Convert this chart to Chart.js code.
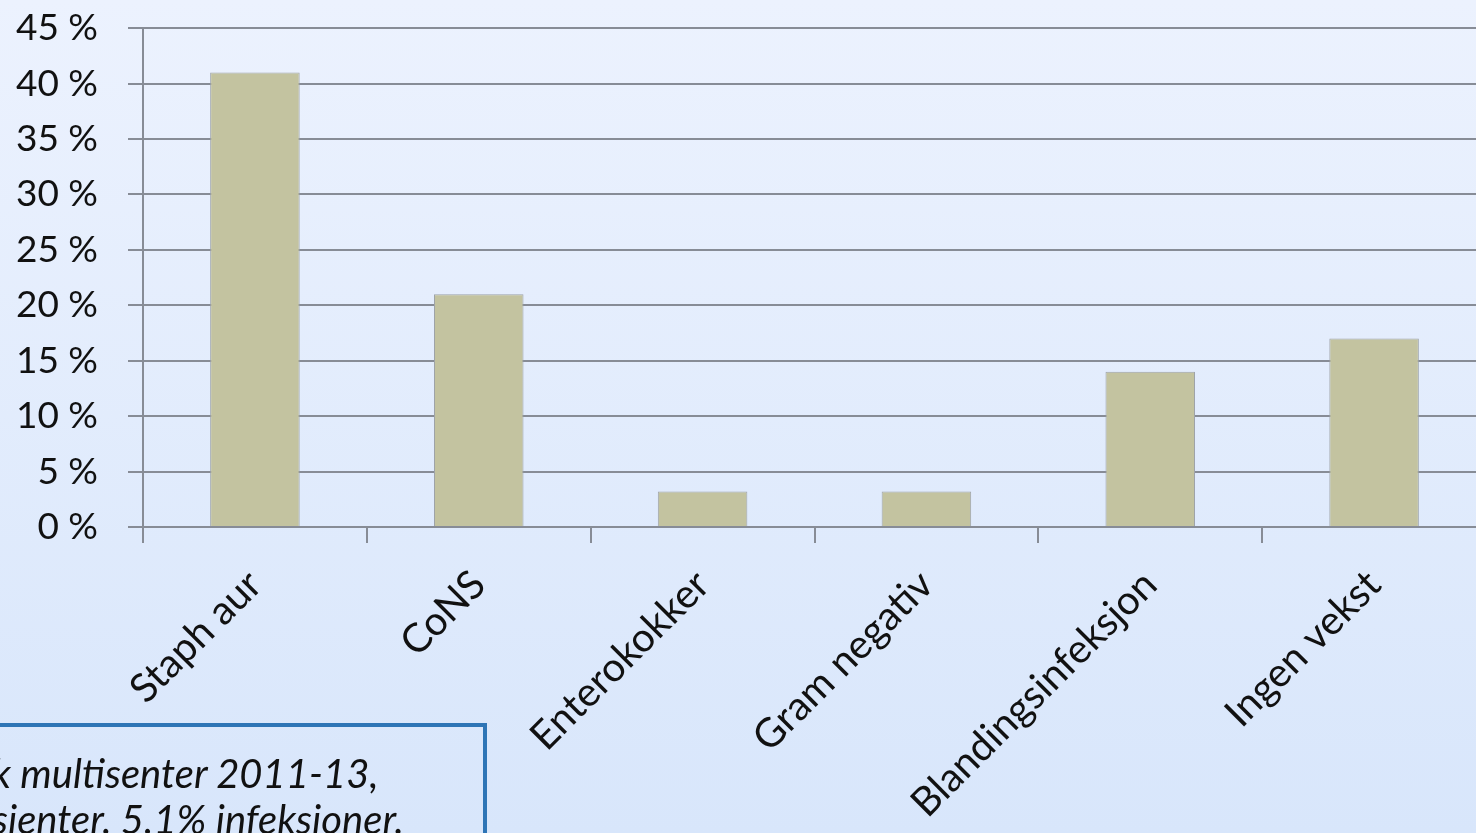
<!DOCTYPE html>
<html>
<head>
<meta charset="utf-8">
<script src="https://cdn.jsdelivr.net/npm/chart.js@4.4.1/dist/chart.umd.min.js"></script>
<style>
    html, body {
        margin: 0;
        padding: 0;
        width: 1476px;
        height: 833px;
        overflow: hidden;
        background: linear-gradient(to bottom, #ecf2fe 0%, #d8e6fb 100%);
        font-family: Lato, "Noto Sans", sans-serif;
    }
    #chartBox {
        position: absolute;
        left: 0;
        top: -24px;
        width: 1486px;
        height: 857px;
    }
    .note {
        position: absolute;
        left: -12px;
        top: 723px;
        width: 499px;
        height: 140px;
        border: 4px solid #2e75b6;
        box-sizing: border-box;
        font-style: italic;
        font-size: 40px;
        line-height: 46px;
        color: #111;
        padding: 23px 0 0 0;
        white-space: nowrap;
    }
</style>
</head>
<body>
<div id="chartBox"><canvas id="bakterieChart"></canvas></div>
<div class="note">k multisenter 2011-13,<br>sienter. 5.1% infeksioner.</div>

<script>
    const categories = ['Staph aur', 'CoNS', 'Enterokokker', 'Gram negativ', 'Blandingsinfeksjon', 'Ingen vekst'];
    const shares = [41, 21, 3.2, 3.2, 14, 17];
    const yTicks = [0, 5, 10, 15, 20, 25, 30, 35, 40, 45];

    const gridColor = '#878c96';

    const ctx = document.getElementById('bakterieChart').getContext('2d');
    new Chart(ctx, {
        type: 'bar',
        data: {
            labels: categories,
            datasets: [{
                data: shares,
                backgroundColor: '#c3c3a0',
                borderColor: '#9ea3a8',
                borderWidth: 1,
                categoryPercentage: 1,
                barPercentage: 0.4
            }]
        },
        options: {
            responsive: true,
            maintainAspectRatio: false,
            animation: false,
            layout: { padding: { top: 7, right: 0, left: 0, bottom: 0 } },
            plugins: {
                legend: { display: false },
                tooltip: { enabled: false }
            },
            scales: {
                y: {
                    min: 0,
                    max: 45,
                    afterBuildTicks: function (axis) {
                        axis.ticks = yTicks.map(v => ({ value: v }));
                    },
                    afterFit: function (axis) { axis.width = 143; },
                    grid: {
                        color: gridColor,
                        lineWidth: 2,
                        tickLength: 15,
                        drawTicks: true
                    },
                    border: { display: true, color: gridColor, width: 2 },
                    ticks: {
                        padding: 30,
                        color: '#111',
                        font: { family: 'Lato', size: 37 },
                        callback: v => v + ' %'
                    }
                },
                x: {
                    afterFit: function (axis) { axis.height = 306; },
                    grid: {
                        offset: true,
                        drawOnChartArea: false,
                        drawTicks: true,
                        tickLength: 16,
                        color: gridColor,
                        lineWidth: 2
                    },
                    border: { display: true, color: gridColor, width: 2 },
                    ticks: {
                        minRotation: 45,
                        maxRotation: 45,
                        padding: 18,
                        color: '#111',
                        font: { family: 'Lato', size: 40 }
                    }
                }
            }
        }
    });
</script>
</body>
</html>
